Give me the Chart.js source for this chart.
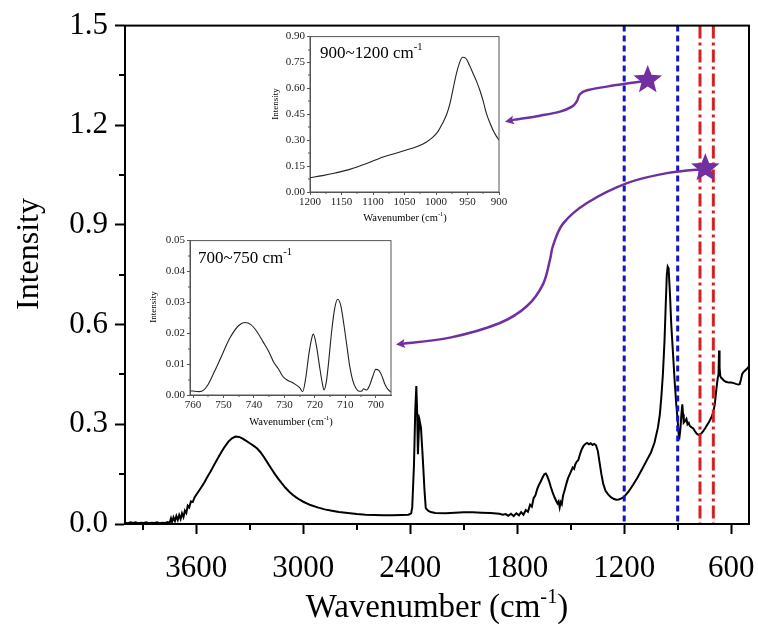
<!DOCTYPE html>
<html>
<head>
<meta charset="utf-8">
<script src="https://cdn.jsdelivr.net/npm/chart.js@4/dist/chart.umd.min.js"></script>
<style>
  html, body { margin: 0; padding: 0; background: #fff; }
  #wrap { position: relative; width: 758px; height: 631px; overflow: hidden;
          font-family: "Liberation Serif", "Times New Roman", serif; color: #000; }
  canvas { position: absolute; display: block; }
  .txt { position: absolute; white-space: nowrap; line-height: 1; }
  .txt sup { font-size: 0.62em; line-height: 0; position: relative; top: -0.1em; vertical-align: super; }
  .rot { transform: translate(-50%, -50%) rotate(-90deg); }
  .ctr { transform: translateX(-50%); }
</style>
</head>
<body>
<div id="wrap">
  <canvas id="mainChart" width="758" height="631" style="left:0;top:0"></canvas>
  <canvas id="inset1" width="258" height="202" style="left:255px;top:28px"></canvas>
  <canvas id="inset2" width="262" height="185" style="left:140px;top:232px"></canvas>

  <div class="txt rot" style="left:27px;top:254px;font-size:32px">Intensity</div>
  <div class="txt ctr" style="left:437px;top:590px;font-size:33px">Wavenumber (cm<sup>-1</sup>)</div>

  <div class="txt" style="left:320px;top:44px;font-size:17px">900~1200 cm<sup>-1</sup></div>
  <div class="txt rot" style="left:275px;top:104px;font-size:9px">Intensity</div>
  <div class="txt ctr" style="left:405px;top:213px;font-size:10.5px">Wavenumber (cm<sup>-1</sup>)</div>

  <div class="txt" style="left:198px;top:249px;font-size:17px">700~750 cm<sup>-1</sup></div>
  <div class="txt rot" style="left:153px;top:307px;font-size:9px">Intensity</div>
  <div class="txt ctr" style="left:291px;top:417px;font-size:10.5px">Wavenumber (cm<sup>-1</sup>)</div>
</div>

<script>
// ---- Full FTIR spectrum ----
const mainWavenumber = [
  4000, 3985, 3970, 3955, 3940, 3925, 3910, 3895, 3880, 3865, 3850, 3835, 3820, 3805, 3790, 3775,
  3760, 3750, 3742, 3736, 3728, 3720, 3712, 3704, 3696, 3688, 3680, 3672, 3664, 3656, 3648, 3640,
  3630, 3620, 3610, 3600, 3585, 3570, 3555, 3540, 3520, 3500, 3480, 3460, 3440, 3420, 3400, 3380,
  3360, 3340, 3320, 3300, 3280, 3260, 3240, 3220, 3200, 3180, 3160, 3140, 3120, 3100, 3080, 3060,
  3040, 3020, 3000, 2960, 2920, 2880, 2840, 2800, 2750, 2700, 2650, 2600, 2550, 2500, 2450, 2410,
  2395, 2389, 2379, 2372, 2366, 2361, 2357, 2352, 2347, 2340, 2330, 2320, 2313, 2300, 2285, 2260,
  2200, 2150, 2100, 2050, 2000, 1950, 1900, 1880, 1865, 1850, 1835, 1820, 1805, 1790, 1778, 1765,
  1752, 1740, 1728, 1718, 1708, 1698, 1688, 1678, 1668, 1658, 1648, 1640, 1632, 1622, 1612, 1602,
  1592, 1582, 1574, 1568, 1562, 1556, 1550, 1543, 1535, 1525, 1515, 1505, 1497, 1489, 1481, 1474,
  1466, 1458, 1448, 1438, 1428, 1418, 1408, 1398, 1388, 1378, 1368, 1358, 1348, 1338, 1328, 1318,
  1305, 1290, 1275, 1260, 1245, 1230, 1215, 1200, 1175, 1150, 1125, 1100, 1075, 1050, 1030, 1011,
  1000, 992, 983, 974, 967, 961, 956, 951, 944, 936, 927, 917, 908, 900, 894, 890,
  885, 879, 874, 870, 866, 858, 851, 845, 838, 832, 822, 813, 804, 794, 784, 775,
  765, 756, 745, 735, 725, 718, 708, 700, 692, 686, 680, 675, 671, 668, 665, 661,
  656, 650, 642, 630, 615, 600, 585, 570, 560, 552, 545, 538, 530, 520, 510, 500
];
const mainIntensity = [
  0.004, 0.002, 0.005, 0.003, 0.005, 0.002, 0.004, 0.003, 0.005, 0.002, 0.004, 0.003, 0.005, 0.002, 0.004, 0.003,
  0.006, 0.003, 0.017, 0.006, 0.020, 0.009, 0.024, 0.012, 0.027, 0.015, 0.032, 0.021, 0.040, 0.033, 0.055, 0.050,
  0.068, 0.066, 0.080, 0.088, 0.100, 0.112, 0.125, 0.140, 0.158, 0.178, 0.197, 0.216, 0.233, 0.248, 0.258, 0.263,
  0.262, 0.257, 0.250, 0.243, 0.236, 0.228, 0.216, 0.201, 0.184, 0.167, 0.151, 0.136, 0.122, 0.109, 0.098, 0.088,
  0.080, 0.073, 0.067, 0.057, 0.050, 0.044, 0.040, 0.036, 0.033, 0.030, 0.028, 0.027, 0.026, 0.026, 0.027, 0.028,
  0.032, 0.050, 0.180, 0.340, 0.415, 0.330, 0.210, 0.280, 0.310, 0.290, 0.200, 0.100, 0.048, 0.040, 0.036, 0.033,
  0.032, 0.034, 0.035, 0.035, 0.034, 0.033, 0.031, 0.028, 0.030, 0.025, 0.031, 0.024, 0.032, 0.026, 0.036, 0.028,
  0.042, 0.037, 0.058, 0.052, 0.078, 0.086, 0.105, 0.118, 0.128, 0.140, 0.150, 0.152, 0.145, 0.130, 0.112, 0.096,
  0.082, 0.070, 0.062, 0.068, 0.050, 0.066, 0.060, 0.085, 0.100, 0.120, 0.138, 0.150, 0.160, 0.170, 0.166, 0.180,
  0.188, 0.192, 0.210, 0.225, 0.235, 0.241, 0.244, 0.240, 0.243, 0.238, 0.241, 0.237, 0.220, 0.185, 0.150, 0.122,
  0.100, 0.089, 0.081, 0.076, 0.073, 0.074, 0.077, 0.082, 0.098, 0.118, 0.140, 0.165, 0.190, 0.215, 0.245, 0.290,
  0.330, 0.380, 0.450, 0.550, 0.660, 0.750, 0.775, 0.770, 0.700, 0.600, 0.520, 0.430, 0.360, 0.310, 0.268, 0.262,
  0.285, 0.330, 0.360, 0.330, 0.305, 0.310, 0.316, 0.300, 0.304, 0.295, 0.291, 0.288, 0.280, 0.272, 0.268, 0.270,
  0.274, 0.280, 0.289, 0.298, 0.306, 0.314, 0.324, 0.338, 0.360, 0.390, 0.420, 0.440, 0.450, 0.522, 0.470, 0.445,
  0.440, 0.437, 0.432, 0.428, 0.426, 0.426, 0.424, 0.421, 0.420, 0.421, 0.435, 0.452, 0.458, 0.463, 0.468, 0.474
];

// ---- Zoom 900~1200 cm-1 ----
const zoomAWavenumber = [1200, 1180, 1160, 1137, 1110, 1084, 1065, 1047, 1030, 1015, 1005, 997, 990, 983, 978,
  973, 968, 963, 958, 953, 947, 941, 935, 930, 925, 920, 915, 909, 904, 900];
const zoomAIntensity = [0.083, 0.095, 0.110, 0.131, 0.165, 0.203, 0.223, 0.243, 0.263, 0.290, 0.318, 0.350, 0.395, 0.450, 0.510,
  0.595, 0.680, 0.745, 0.780, 0.775, 0.735, 0.685, 0.635, 0.585, 0.525, 0.455, 0.405, 0.355, 0.322, 0.300];

// ---- Zoom 700~750 cm-1 ----
const zoomBWavenumber = [761, 758, 756.5, 755, 753, 751, 748, 745, 743, 741, 739, 737, 735, 733.5, 732, 730.5,
  729, 727, 725, 724, 723, 722, 721, 720.5, 719.5, 718.5, 717.5, 717, 716.2, 715.5, 714.5, 713.5,
  712.5, 711.5, 710.5, 709.5, 708.5, 707.5, 706.5, 705.5, 704.7, 704, 703, 702, 701, 700, 699, 698, 697, 696, 695];
const zoomBIntensity = [0.0014, 0.0011, 0.0016, 0.0035, 0.0075, 0.0118, 0.0183, 0.0225, 0.0235, 0.0228, 0.0205, 0.0172, 0.0138, 0.0106, 0.0085, 0.0060,
  0.0048, 0.0038, 0.0024, 0.0011, 0.0055, 0.0130, 0.0185, 0.0197, 0.0160, 0.0095, 0.0035, 0.0016, 0.0045, 0.0105, 0.0205, 0.0280,
  0.0310, 0.0290, 0.0230, 0.0160, 0.0090, 0.0045, 0.0022, 0.0012, 0.0012, 0.0020, 0.0016, 0.0032, 0.0060, 0.0083, 0.0080, 0.0062, 0.0035, 0.0018, 0.0010];

// ---- Axis ticks ----
const mainXTicks = [600, 1200, 1800, 2400, 3000, 3600];
const mainXMinor = [900, 1500, 2100, 2700, 3300, 3900];
const mainYTicks = [0, 0.3, 0.6, 0.9, 1.2, 1.5];
const mainYMinor = [0.15, 0.45, 0.75, 1.05, 1.35];
const zoomAXTicks = [1200, 1150, 1100, 1050, 1000, 950, 900];
const zoomAXMinor = [1175, 1125, 1075, 1025, 975, 925];
const zoomAYTicks = [0, 0.15, 0.30, 0.45, 0.60, 0.75, 0.90];
const zoomAYMinor = [0.075, 0.225, 0.375, 0.525, 0.675, 0.825];
const zoomBXTicks = [760, 750, 740, 730, 720, 710, 700];
const zoomBXMinor = [755, 745, 735, 725, 715, 705];
const zoomBYTicks = [0, 0.01, 0.02, 0.03, 0.04, 0.05];
const zoomBYMinor = [0.005, 0.015, 0.025, 0.035, 0.045];

// ---- Marked bands (cm-1) ----
const blueBands = [1200, 900];
const redBands = [775, 700];

// ---- Stars and callout arrows, in [wavenumber, intensity] ----
const starPoints = [[1068, 1.336], [745, 1.071]];
const arrowToZoomA = [[1083, 1.333], [1280, 1.318], [1403, 1.306], [1448, 1.294], [1465, 1.273], [1493, 1.256],
  [1560, 1.241], [1672, 1.229], [1812, 1.217], [1869, 1.211]];
const arrowToZoomB = [[758, 1.068], [960, 1.056], [1184, 1.026], [1409, 0.966], [1543, 0.904], [1599, 0.838],
  [1616, 0.796], [1655, 0.722], [1745, 0.656], [1897, 0.605], [2177, 0.561], [2480, 0.540]];

const SERIF = "'Liberation Serif', 'Times New Roman', serif";
const PURPLE = '#7030a0';

const toXY = (xs, ys) => xs.map((x, i) => ({ x, y: ys[i] }));

// Box frame plus short minor tick marks outside the plot area
const frameTicks = {
  id: 'frameTicks',
  afterDraw(chart, args, o) {
    const { ctx, chartArea: a, scales: { x, y } } = chart;
    ctx.save();
    ctx.strokeStyle = o.color;
    ctx.lineWidth = o.width;
    ctx.strokeRect(a.left, a.top, a.right - a.left, a.bottom - a.top);
    ctx.beginPath();
    (o.minorX || []).forEach(v => {
      const px = Math.round(x.getPixelForValue(v));
      ctx.moveTo(px, a.bottom); ctx.lineTo(px, a.bottom + o.minorLen);
    });
    (o.minorY || []).forEach(v => {
      const py = Math.round(y.getPixelForValue(v));
      ctx.moveTo(a.left, py); ctx.lineTo(a.left - o.minorLen, py);
    });
    ctx.stroke();
    ctx.restore();
  }
};

function smoothPath(ctx, pts) {
  ctx.moveTo(pts[0][0], pts[0][1]);
  for (let i = 0; i < pts.length - 1; i++) {
    const p0 = pts[i - 1] || pts[i], p1 = pts[i], p2 = pts[i + 1], p3 = pts[i + 2] || p2;
    ctx.bezierCurveTo(
      p1[0] + (p2[0] - p0[0]) / 6, p1[1] + (p2[1] - p0[1]) / 6,
      p2[0] - (p3[0] - p1[0]) / 6, p2[1] - (p3[1] - p1[1]) / 6,
      p2[0], p2[1]);
  }
}

function drawStar(ctx, cx, cy, R, r) {
  ctx.beginPath();
  for (let i = 0; i < 10; i++) {
    const ang = -Math.PI / 2 + i * Math.PI / 5;
    const rad = i % 2 ? r : R;
    ctx.lineTo(cx + rad * Math.cos(ang), cy + rad * Math.sin(ang));
  }
  ctx.closePath();
  ctx.fill();
}

// Band lines, callout arrows and stars on the full spectrum
const markers = {
  id: 'markers',
  afterDatasetsDraw(chart) {
    const { ctx, chartArea: a, scales: { x, y } } = chart;
    const px = p => [x.getPixelForValue(p[0]), y.getPixelForValue(p[1])];
    ctx.save();
    ctx.beginPath();
    ctx.rect(a.left, a.top, a.right - a.left, a.bottom - a.top);
    ctx.clip();

    ctx.lineWidth = 3;
    ctx.strokeStyle = '#1414c4';
    ctx.setLineDash([6, 4]);
    blueBands.forEach(v => {
      const xp = x.getPixelForValue(v);
      ctx.beginPath(); ctx.moveTo(xp, a.top); ctx.lineTo(xp, a.bottom); ctx.stroke();
    });
    ctx.strokeStyle = '#d42222';
    ctx.setLineDash([13, 4, 3, 4]);
    redBands.forEach(v => {
      const xp = x.getPixelForValue(v);
      ctx.beginPath(); ctx.moveTo(xp, a.top); ctx.lineTo(xp, a.bottom); ctx.stroke();
    });
    ctx.setLineDash([]);

    ctx.strokeStyle = PURPLE;
    ctx.fillStyle = PURPLE;
    ctx.lineWidth = 2.5;
    ctx.lineCap = 'round';
    [arrowToZoomA, arrowToZoomB].forEach(path => {
      const pts = path.map(px);
      const tip = pts[pts.length - 1];
      const prev = pts[pts.length - 2];
      const ang = Math.atan2(tip[1] - prev[1], tip[0] - prev[0]);
      const L = 9, W = 4.5;
      const base = [tip[0] - L * 0.8 * Math.cos(ang), tip[1] - L * 0.8 * Math.sin(ang)];
      const body = pts.slice(0, -1).concat([base]);
      ctx.beginPath(); smoothPath(ctx, body); ctx.stroke();
      ctx.beginPath();
      ctx.moveTo(tip[0], tip[1]);
      ctx.lineTo(tip[0] - L * Math.cos(ang) + W * Math.sin(ang), tip[1] - L * Math.sin(ang) - W * Math.cos(ang));
      ctx.lineTo(base[0], base[1]);
      ctx.lineTo(tip[0] - L * Math.cos(ang) - W * Math.sin(ang), tip[1] - L * Math.sin(ang) + W * Math.cos(ang));
      ctx.closePath();
      ctx.fill();
    });
    starPoints.forEach(p => { const [sx, sy] = px(p); drawStar(ctx, sx, sy, 15, 6.5); });
    ctx.restore();
  }
};

function tickAxis(o) {
  return {
    type: 'linear',
    position: o.position,
    reverse: !!o.reverse,
    min: o.min, max: o.max,
    afterBuildTicks: s => { s.ticks = o.ticks.map(v => ({ value: v })); },
    afterFit: s => { if (o.position === 'left') s.width = o.size; else s.height = o.size; },
    grid: { display: true, drawOnChartArea: false, drawTicks: true, tickLength: o.tickLen,
            tickColor: o.color, tickWidth: o.tickWidth, color: 'transparent' },
    border: { display: true, color: o.color, width: o.tickWidth },
    ticks: { color: o.labelColor, padding: o.pad, maxRotation: 0, autoSkip: false,
             font: { family: SERIF, size: o.fontSize },
             callback: v => o.fmt(v) }
  };
}

Chart.defaults.animation = false;

// Main chart
new Chart(document.getElementById('mainChart'), {
  type: 'scatter',
  data: { datasets: [{ data: toXY(mainWavenumber, mainIntensity), showLine: true, pointRadius: 0,
                       borderColor: '#000', borderWidth: 2, tension: 0 }] },
  options: {
    responsive: false, devicePixelRatio: 1, events: [],
    layout: { padding: { left: 0, top: 21, right: 9, bottom: 0 }, autoPadding: false },
    plugins: { legend: { display: false }, tooltip: { enabled: false },
               frameTicks: { color: '#000', width: 2, minorLen: 6, minorX: mainXMinor, minorY: mainYMinor } },
    scales: {
      x: tickAxis({ position: 'bottom', reverse: true, min: 500, max: 4000, ticks: mainXTicks, size: 107,
                    tickLen: 10, tickWidth: 2, color: '#000', labelColor: '#000', pad: 16, fontSize: 31,
                    fmt: v => String(v) }),
      y: tickAxis({ position: 'left', min: 0, max: 1.5, ticks: mainYTicks, size: 125,
                    tickLen: 10, tickWidth: 2, color: '#000', labelColor: '#000', pad: 7, fontSize: 31,
                    fmt: v => v.toFixed(1) })
    }
  },
  plugins: [frameTicks, markers]
});

function zoomChart(id, xs, ys, cfg) {
  return new Chart(document.getElementById(id), {
    type: 'scatter',
    data: { datasets: [{ data: toXY(xs, ys), showLine: true, pointRadius: 0,
                         borderColor: '#222', borderWidth: 1.1, cubicInterpolationMode: 'monotone' }] },
    options: {
      responsive: false, devicePixelRatio: 1, events: [],
      layout: { padding: cfg.padding, autoPadding: false },
      plugins: { legend: { display: false }, tooltip: { enabled: false },
                 frameTicks: { color: '#555', width: 1, minorLen: 2, minorX: cfg.minorX, minorY: cfg.minorY } },
      scales: {
        x: tickAxis({ position: 'bottom', reverse: true, min: cfg.xMin, max: cfg.xMax, ticks: cfg.xTicks, size: cfg.xSize,
                      tickLen: 3, tickWidth: 1, color: '#555', labelColor: '#222', pad: 1, fontSize: 11,
                      fmt: v => String(v) }),
        y: tickAxis({ position: 'left', min: cfg.yMin, max: cfg.yMax, ticks: cfg.yTicks, size: cfg.ySize,
                      tickLen: 3, tickWidth: 1, color: '#555', labelColor: '#222', pad: 2, fontSize: 11,
                      fmt: v => v.toFixed(2) })
      }
    },
    plugins: [frameTicks]
  });
}

zoomChart('inset1', zoomAWavenumber, zoomAIntensity, {
  padding: { left: 0, top: 8, right: 14, bottom: 0 }, xSize: 38, ySize: 55,
  xMin: 900, xMax: 1200, xTicks: zoomAXTicks, minorX: zoomAXMinor,
  yMin: 0, yMax: 0.9, yTicks: zoomAYTicks, minorY: zoomAYMinor
});

zoomChart('inset2', zoomBWavenumber, zoomBIntensity, {
  padding: { left: 0, top: 8, right: 11, bottom: 0 }, xSize: 22, ySize: 50,
  xMin: 695, xMax: 761, xTicks: zoomBXTicks, minorX: zoomBXMinor,
  yMin: 0, yMax: 0.05, yTicks: zoomBYTicks, minorY: zoomBYMinor
});
</script>
</body>
</html>
